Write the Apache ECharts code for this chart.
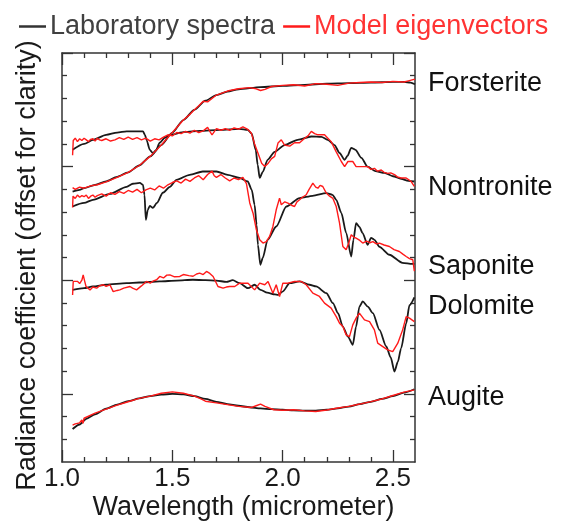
<!DOCTYPE html>
<html><head><meta charset="utf-8">
<script src="https://cdn.jsdelivr.net/npm/echarts@6/dist/echarts.min.js"></script>
<style>html,body{margin:0;padding:0;background:#fff}#c{width:562px;height:523px}</style>
</head><body><div id="c"></div>
<script>
// ---- tick definitions ----
const xMajorTicks = [1.0, 1.5, 2.0, 2.5];
const xMinorTicks = [1.1,1.2,1.3,1.4,1.6,1.7,1.8,1.9,2.1,2.2,2.3,2.4];
const yMajorTicks = [0, 1, 2, 3];
const yMinorTicks = [-0.4,-0.2,0.2,0.4,0.6,0.8,1.2,1.4,1.6,1.8,2.2,2.4,2.6,2.8];
const mineralNames = ['Forsterite','Nontronite','Saponite','Dolomite','Augite'];
const mineralLabelLevels = [2.73, 1.82, 1.12, 0.77, -0.03];

// ---- laboratory spectra (black) [wavelength, offset radiance] ----
const forsteriteLab = [[1.048,1.78],[1.08,1.795],[1.10,1.81],[1.15,1.84],[1.20,1.87],[1.25,1.91],[1.30,1.95],[1.35,2.01],[1.40,2.09],[1.45,2.19],[1.50,2.30],[1.55,2.41],[1.60,2.50],[1.65,2.58],[1.70,2.63],[1.75,2.66],[1.80,2.68],[1.90,2.70],[2.00,2.71],[2.10,2.72],[2.20,2.73],[2.30,2.735],[2.40,2.74],[2.50,2.745],[2.55,2.745],[2.58,2.74],[2.60,2.725]];
const nontroniteLab = [[1.048,2.148],[1.10,2.20],[1.14,2.235],[1.20,2.28],[1.25,2.30],[1.293,2.31],[1.367,2.31],[1.376,2.28],[1.383,2.236],[1.398,2.148],[1.412,2.119],[1.425,2.14],[1.443,2.21],[1.466,2.254],[1.489,2.28],[1.557,2.306],[1.624,2.315],[1.715,2.324],[1.805,2.333],[1.842,2.324],[1.86,2.29],[1.878,2.148],[1.887,2.016],[1.896,1.901],[1.91,1.954],[1.932,2.06],[1.964,2.13],[2.009,2.19],[2.068,2.236],[2.13,2.265],[2.176,2.262],[2.204,2.236],[2.235,2.19],[2.258,2.12],[2.281,2.06],[2.294,2.095],[2.311,2.165],[2.33,2.148],[2.357,2.077],[2.385,2.0],[2.42,1.96],[2.462,1.945],[2.50,1.915],[2.537,1.893],[2.57,1.875],[2.597,1.869]];
const saponiteLab = [[1.048,1.649],[1.10,1.68],[1.14,1.708],[1.217,1.76],[1.293,1.822],[1.321,1.849],[1.353,1.857],[1.367,1.84],[1.374,1.75],[1.380,1.532],[1.389,1.62],[1.398,1.655],[1.412,1.637],[1.43,1.68],[1.457,1.77],[1.489,1.822],[1.519,1.884],[1.579,1.928],[1.638,1.957],[1.70,1.957],[1.751,1.928],[1.805,1.901],[1.842,1.869],[1.86,1.796],[1.873,1.664],[1.882,1.488],[1.888,1.312],[1.899,1.136],[1.91,1.197],[1.932,1.356],[1.971,1.473],[2.017,1.649],[2.077,1.723],[2.136,1.743],[2.198,1.767],[2.226,1.752],[2.243,1.708],[2.266,1.593],[2.288,1.417],[2.311,1.209],[2.321,1.356],[2.333,1.503],[2.348,1.47],[2.362,1.417],[2.385,1.312],[2.401,1.373],[2.416,1.356],[2.439,1.294],[2.484,1.224],[2.543,1.153],[2.588,1.144],[2.597,1.144]];
const dolomiteLab = [[1.048,0.915],[1.10,0.93],[1.14,0.945],[1.20,0.96],[1.293,0.974],[1.35,0.98],[1.443,0.989],[1.52,0.997],[1.593,1.004],[1.65,1.0],[1.70,0.997],[1.745,0.985],[1.774,1.0],[1.805,0.974],[1.843,0.93],[1.873,0.96],[1.90,0.915],[1.93,0.89],[1.965,0.875],[1.979,0.871],[2.0,0.90],[2.032,0.974],[2.077,0.989],[2.122,0.96],[2.152,0.945],[2.198,0.886],[2.228,0.798],[2.251,0.71],[2.273,0.592],[2.296,0.504],[2.318,0.431],[2.333,0.592],[2.348,0.768],[2.363,0.813],[2.386,0.768],[2.409,0.71],[2.439,0.563],[2.469,0.42],[2.49,0.32],[2.507,0.196],[2.522,0.28],[2.537,0.40],[2.56,0.62],[2.575,0.78],[2.597,0.85]];
const augiteLab = [[1.048,-0.31],[1.08,-0.27],[1.11,-0.22],[1.15,-0.18],[1.20,-0.13],[1.25,-0.095],[1.30,-0.065],[1.35,-0.04],[1.40,-0.02],[1.45,-0.007],[1.50,0.0],[1.55,-0.005],[1.60,-0.02],[1.65,-0.045],[1.70,-0.07],[1.75,-0.09],[1.80,-0.105],[1.85,-0.118],[1.90,-0.128],[1.95,-0.135],[2.00,-0.14],[2.05,-0.145],[2.10,-0.148],[2.15,-0.147],[2.20,-0.14],[2.25,-0.128],[2.30,-0.112],[2.35,-0.09],[2.40,-0.07],[2.45,-0.045],[2.50,-0.02],[2.55,0.01],[2.597,0.04]];

// ---- model eigenvectors (red) ----
const forsteriteModel = [[1.048,1.815],[1.06,1.80],[1.08,1.82],[1.10,1.81],[1.13,1.83],[1.16,1.84],[1.20,1.865],[1.25,1.905],[1.30,1.95],[1.35,2.01],[1.40,2.09],[1.45,2.19],[1.50,2.30],[1.55,2.41],[1.58,2.46],[1.60,2.50],[1.62,2.535],[1.64,2.575],[1.66,2.57],[1.70,2.63],[1.75,2.665],[1.80,2.685],[1.85,2.695],[1.88,2.685],[1.90,2.67],[1.92,2.68],[1.95,2.705],[2.00,2.715],[2.05,2.72],[2.10,2.71],[2.15,2.73],[2.20,2.725],[2.25,2.715],[2.30,2.735],[2.35,2.74],[2.40,2.745],[2.45,2.74],[2.50,2.75],[2.55,2.745],[2.57,2.755],[2.60,2.77]];
const nontroniteModel = [[1.048,2.10],[1.051,2.23],[1.06,2.25],[1.07,2.22],[1.08,2.245],[1.09,2.23],[1.10,2.25],[1.11,2.235],[1.12,2.22],[1.13,2.24],[1.14,2.245],[1.15,2.225],[1.16,2.25],[1.17,2.235],[1.18,2.23],[1.20,2.245],[1.22,2.225],[1.24,2.235],[1.26,2.255],[1.28,2.24],[1.30,2.26],[1.32,2.24],[1.34,2.255],[1.36,2.235],[1.38,2.25],[1.40,2.225],[1.42,2.245],[1.44,2.235],[1.46,2.26],[1.48,2.28],[1.50,2.27],[1.52,2.30],[1.54,2.29],[1.56,2.31],[1.58,2.295],[1.60,2.32],[1.62,2.30],[1.64,2.315],[1.66,2.345],[1.67,2.31],[1.68,2.28],[1.70,2.335],[1.72,2.32],[1.74,2.335],[1.76,2.32],[1.78,2.34],[1.80,2.33],[1.82,2.35],[1.84,2.33],[1.858,2.295],[1.873,2.20],[1.888,2.12],[1.905,2.03],[1.919,2.0],[1.935,2.03],[1.95,2.07],[1.964,2.09],[1.979,2.207],[1.994,2.236],[2.009,2.19],[2.032,2.18],[2.054,2.21],[2.077,2.21],[2.10,2.25],[2.115,2.27],[2.13,2.31],[2.145,2.29],[2.16,2.28],[2.19,2.28],[2.205,2.25],[2.22,2.22],[2.243,2.13],[2.266,2.045],[2.281,2.0],[2.296,2.045],[2.318,2.045],[2.333,2.0],[2.356,2.0],[2.386,2.0],[2.40,1.975],[2.416,1.985],[2.43,1.96],[2.447,1.97],[2.46,1.95],[2.476,1.94],[2.49,1.945],[2.507,1.93],[2.52,1.91],[2.537,1.90],[2.56,1.90],[2.582,1.87],[2.597,1.825]];
const saponiteModel = [[1.048,1.64],[1.05,1.74],[1.06,1.72],[1.07,1.75],[1.08,1.73],[1.09,1.745],[1.10,1.735],[1.11,1.75],[1.12,1.72],[1.13,1.74],[1.14,1.75],[1.15,1.73],[1.16,1.745],[1.18,1.76],[1.20,1.74],[1.22,1.77],[1.24,1.755],[1.26,1.78],[1.28,1.765],[1.30,1.79],[1.32,1.775],[1.34,1.80],[1.36,1.77],[1.38,1.795],[1.40,1.81],[1.42,1.795],[1.44,1.83],[1.46,1.81],[1.48,1.84],[1.50,1.86],[1.52,1.875],[1.54,1.855],[1.56,1.89],[1.58,1.87],[1.60,1.90],[1.62,1.92],[1.64,1.885],[1.66,1.93],[1.68,1.96],[1.69,1.92],[1.70,1.905],[1.72,1.93],[1.74,1.90],[1.76,1.875],[1.78,1.90],[1.80,1.885],[1.82,1.905],[1.836,1.85],[1.851,1.68],[1.866,1.59],[1.881,1.444],[1.896,1.356],[1.911,1.327],[1.926,1.34],[1.941,1.385],[1.956,1.473],[1.971,1.62],[1.986,1.723],[1.994,1.664],[2.01,1.69],[2.024,1.679],[2.04,1.66],[2.054,1.649],[2.065,1.69],[2.077,1.708],[2.09,1.73],[2.107,1.752],[2.12,1.80],[2.137,1.854],[2.15,1.82],[2.16,1.81],[2.17,1.835],[2.182,1.825],[2.198,1.767],[2.213,1.74],[2.228,1.72],[2.243,1.649],[2.258,1.503],[2.273,1.297],[2.288,1.268],[2.30,1.33],[2.311,1.40],[2.322,1.38],[2.333,1.37],[2.35,1.35],[2.363,1.327],[2.38,1.345],[2.395,1.33],[2.409,1.34],[2.425,1.32],[2.439,1.327],[2.46,1.31],[2.484,1.297],[2.505,1.27],[2.529,1.253],[2.545,1.23],[2.56,1.209],[2.575,1.19],[2.59,1.18],[2.597,1.08]];
const dolomiteModel = [[1.048,0.87],[1.051,0.99],[1.06,0.975],[1.07,0.99],[1.08,0.97],[1.09,1.0],[1.096,1.047],[1.103,0.99],[1.109,0.945],[1.127,0.915],[1.14,0.94],[1.157,0.93],[1.17,0.95],[1.187,0.96],[1.20,0.945],[1.217,0.96],[1.232,0.90],[1.25,0.91],[1.262,0.915],[1.28,0.93],[1.308,0.945],[1.32,0.93],[1.338,0.915],[1.36,0.95],[1.383,0.989],[1.40,0.975],[1.415,0.995],[1.429,1.004],[1.443,1.033],[1.46,1.02],[1.475,1.045],[1.489,1.047],[1.51,1.03],[1.534,1.033],[1.55,1.05],[1.575,1.04],[1.594,1.035],[1.61,1.055],[1.624,1.062],[1.64,1.05],[1.655,1.077],[1.67,1.06],[1.685,1.033],[1.707,0.945],[1.73,0.93],[1.745,0.94],[1.76,0.945],[1.783,0.945],[1.805,0.974],[1.813,0.989],[1.843,0.974],[1.873,0.915],[1.896,0.974],[1.919,0.96],[1.934,0.989],[1.956,0.886],[1.971,0.96],[1.986,0.857],[2.001,0.974],[2.024,0.974],[2.054,0.989],[2.085,0.989],[2.107,0.96],[2.137,0.886],[2.167,0.857],[2.19,0.798],[2.22,0.754],[2.243,0.68],[2.258,0.622],[2.273,0.592],[2.288,0.519],[2.303,0.504],[2.318,0.607],[2.333,0.666],[2.348,0.71],[2.371,0.651],[2.394,0.636],[2.416,0.563],[2.431,0.446],[2.454,0.416],[2.476,0.387],[2.499,0.372],[2.522,0.446],[2.544,0.563],[2.56,0.68],[2.575,0.666],[2.597,0.636]];
const augiteModel = [[1.048,-0.275],[1.06,-0.265],[1.08,-0.255],[1.09,-0.23],[1.095,-0.26],[1.10,-0.215],[1.15,-0.17],[1.20,-0.135],[1.25,-0.10],[1.30,-0.07],[1.35,-0.04],[1.40,-0.02],[1.45,0.005],[1.50,0.017],[1.55,0.005],[1.60,-0.02],[1.63,-0.045],[1.65,-0.065],[1.70,-0.08],[1.75,-0.095],[1.80,-0.11],[1.86,-0.12],[1.88,-0.105],[1.90,-0.09],[1.92,-0.11],[1.96,-0.14],[2.00,-0.145],[2.05,-0.14],[2.10,-0.15],[2.15,-0.156],[2.20,-0.142],[2.25,-0.125],[2.30,-0.11],[2.35,-0.09],[2.40,-0.068],[2.45,-0.045],[2.50,-0.015],[2.55,0.015],[2.597,0.035]];

const labSeries = [forsteriteLab, nontroniteLab, saponiteLab, dolomiteLab, augiteLab];
const modelSeries = [forsteriteModel, nontroniteModel, saponiteModel, dolomiteModel, augiteModel];

const FONT = 'Liberation Sans, Arial, sans-serif';
const FRAME = '#333';
const chart = echarts.init(document.getElementById('c'), null, {renderer:'canvas'});

function xAx(pos, ticks, len, showLine, labels){
  return {type:'value', position:pos, min:1.0, max:2.6, gridIndex:0,
    axisLine:{show:showLine, onZero:false, lineStyle:{color:FRAME, width:1.5}},
    axisTick:{show:true, inside:true, length:len, customValues:ticks, lineStyle:{color:FRAME, width:1.3}},
    axisLabel: labels ? {show:true, customValues:ticks, margin:4, fontSize:26, color:'#1a1a1a', fontFamily:FONT, formatter:v=>v.toFixed(1)} : {show:false},
    splitLine:{show:false}};
}
function yAx(pos, ticks, len, showLine){
  return {type:'value', position:pos, min:-0.6, max:3.0, gridIndex:0,
    axisLine:{show:showLine, onZero:false, lineStyle:{color:FRAME, width:1.5}},
    axisTick:{show:true, inside:true, length:len, customValues:ticks, lineStyle:{color:FRAME, width:1.3}},
    axisLabel:{show:false}, splitLine:{show:false}};
}

const series = [];
labSeries.forEach((d,i)=>series.push({name:'Laboratory spectra', type:'line', data:d, showSymbol:false, symbol:'none',
  smooth:0.25, smoothMonotone:'x', lineStyle:{color:'#1a1a1a', width:1.8}, itemStyle:{color:'#1a1a1a'}, z:2}));
modelSeries.forEach((d,i)=>series.push({name:'Model eigenvectors', type:'line', data:d, showSymbol:false, symbol:'none',
  lineStyle:{color:'#ff1a1a', width:1.4}, itemStyle:{color:'#ff1a1a'}, z:3}));

const gridTop = 53, gridBottom = 61, gridLeft = 62, gridRight = 147;

const option = {
  animation:false,
  backgroundColor:'#fff',
  grid:{left:gridLeft, right:gridRight, top:gridTop, bottom:gridBottom, containLabel:false},
  legend:{left:14, top:8, itemWidth:27, itemHeight:2.5, itemGap:8, icon:'rect',
    textStyle:{fontSize:27, fontFamily:FONT, padding:[0,0,0,-1]},
    data:[{name:'Laboratory spectra', textStyle:{color:'#404040'}, itemStyle:{color:'#333'}},
          {name:'Model eigenvectors', textStyle:{color:'#ff3333'}, itemStyle:{color:'#ff1a1a'}}]},
  xAxis:[xAx('bottom', xMajorTicks, 12, true, true), xAx('bottom', xMinorTicks, 5, false, false),
         xAx('top', xMajorTicks, 12, true, false), xAx('top', xMinorTicks, 5, false, false)],
  yAxis:[yAx('left', yMajorTicks, 11, true), yAx('left', yMinorTicks, 5, false),
         yAx('right', yMajorTicks, 11, true), yAx('right', yMinorTicks, 5, false)],
  series:series
};
chart.setOption(option);

// axis names and mineral labels placed via the grid coordinate system
const gx0 = chart.convertToPixel({xAxisIndex:0, yAxisIndex:0}, [1.0, -0.6]);
const gx1 = chart.convertToPixel({xAxisIndex:0, yAxisIndex:0}, [2.6, 3.0]);
const graphics = [];
graphics.push({type:'text', x:(gx0[0]+gx1[0])/2 + 5, y:gx0[1] + 32, style:{text:'Wavelength (micrometer)', font:'27px '+FONT, fill:'#1a1a1a', align:'center', verticalAlign:'top'}});
graphics.push({type:'text', x:28, y:(gx0[1]+gx1[1])/2 + 8, rotation:Math.PI/2, style:{text:'Radiance coefficient (offset for clarity)', font:'27px '+FONT, fill:'#1a1a1a', align:'center', verticalAlign:'middle'}});
mineralNames.forEach((n,i)=>{
  const p = chart.convertToPixel({xAxisIndex:0, yAxisIndex:0}, [2.6, mineralLabelLevels[i]]);
  graphics.push({type:'text', x:p[0]+13, y:p[1], style:{text:n, font:'27px '+FONT, fill:'#111', align:'left', verticalAlign:'middle'}});
});
chart.setOption({graphic:graphics});
</script></body></html>
